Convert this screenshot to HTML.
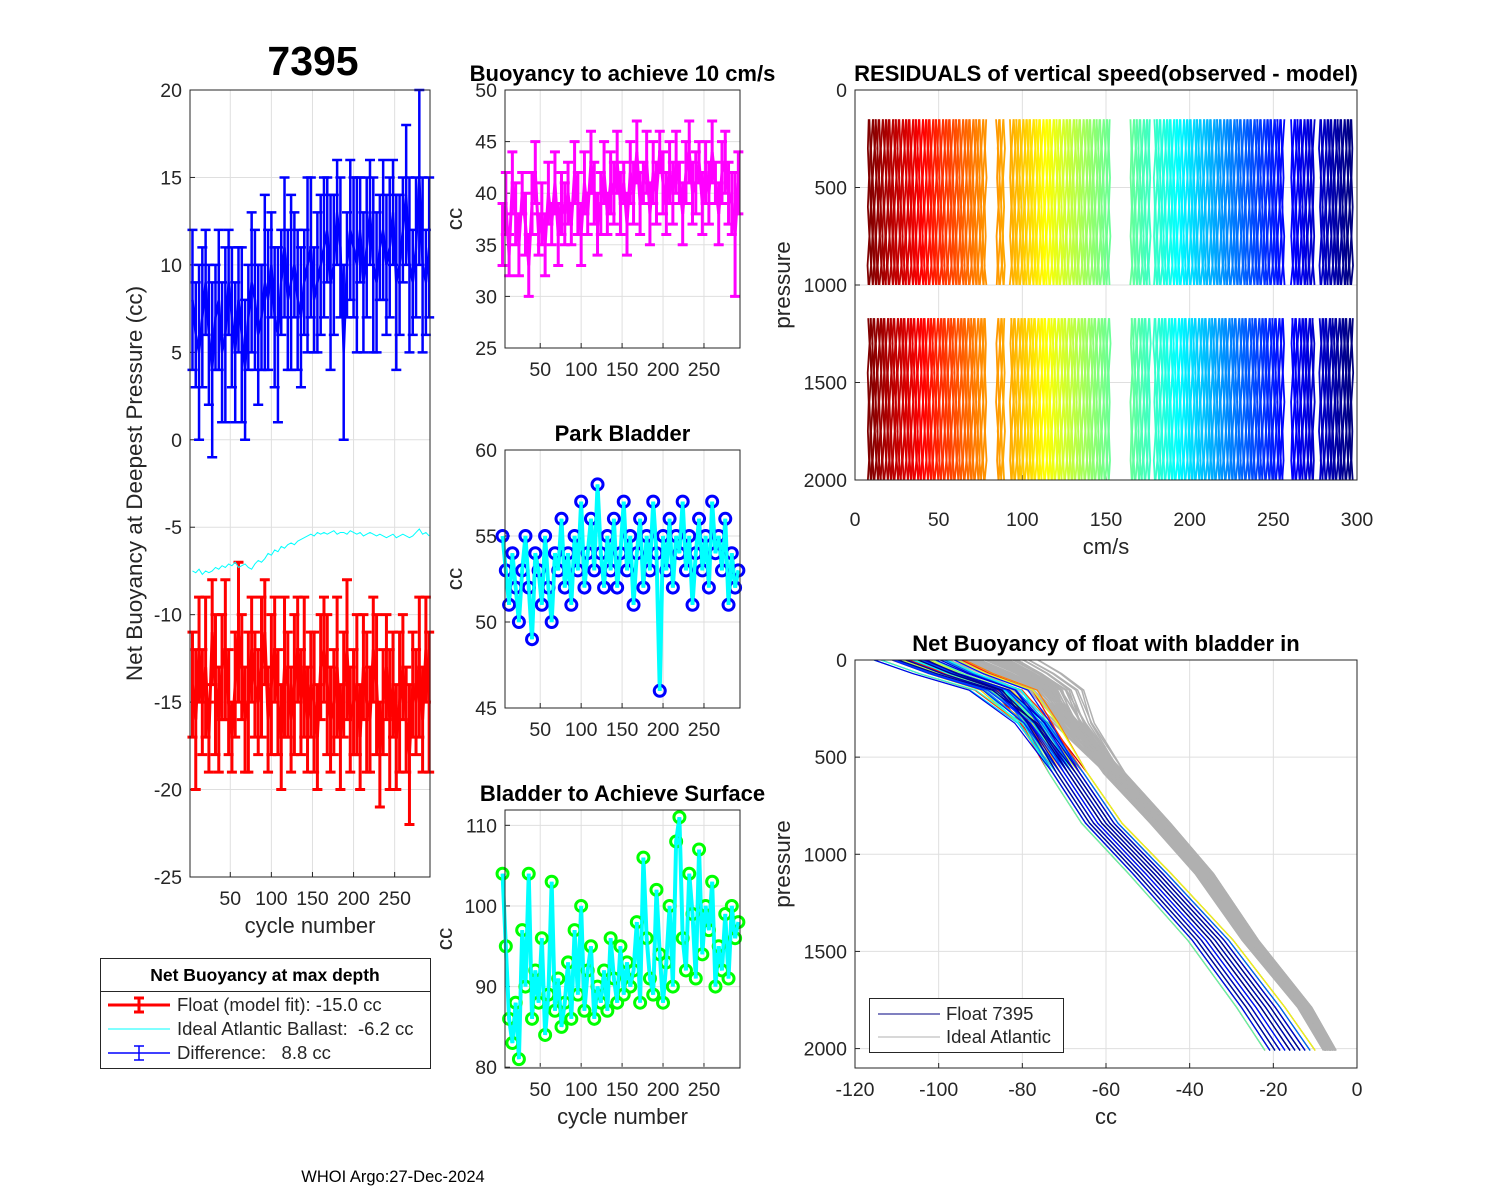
<!DOCTYPE html>
<html><head><meta charset="utf-8">
<style>
html,body{margin:0;padding:0;background:#fff;}
svg{display:block;font-family:"Liberation Sans",Arial,sans-serif;}
</style></head>
<body>
<svg id="fig" width="1500" height="1200" viewBox="0 0 1500 1200" xmlns="http://www.w3.org/2000/svg">
<rect x="0" y="0" width="1500" height="1200" fill="#fff"/>
<text x="313" y="75" font-size="41" font-weight="bold" text-anchor="middle">7395</text>
<text x="393" y="1182" font-size="16.5" text-anchor="middle">WHOI Argo:27-Dec-2024</text>
</svg>
<script>
// ---- data (sampled every 4 cycles, cycles 4..292) ----
var diffVals = [8,6,5,7,9,6,4,7,8,5,6,9,7,5,8,6,4,7,9,8, 6,7,9,8,10,7,6,9,11,8, 9,10,8,7,9,10,11,8,9,10, 11,12,9,10,13,11,5,10,12,11, 10,12,9,11,13,10,9,11,12,10, 11,13,9,10,12,14,10,9,11,15, 10,9,11];
var diffErr = [4,3,5,4,3,4,5,3,4,4,5,3,4,4,3,5,4,3,4,4, 4,3,5,4,3,4,5,3,4,4, 5,3,4,4,3,5,4,3,4,4, 4,3,5,4,3,4,5,3,4,4, 5,3,4,4,3,5,4,3,4,4, 4,3,5,4,3,4,5,3,4,5, 5,3,4];
var floatVals = [-14,-16,-12,-15,-13,-17,-11,-14,-16,-13,-12,-15,-17,-14,-11,-13,-16,-15,-12,-14, -15,-13,-11,-16,-14,-12,-15,-17,-13,-14, -16,-14,-12,-15,-13,-16,-14,-15,-17,-13, -12,-14,-16,-15,-13,-17,-14,-12,-16,-15, -14,-17,-13,-15,-16,-12,-14,-18,-15,-13, -16,-14,-17,-15,-13,-16,-18,-14,-15,-13, -16,-12,-15];
var floatErr = [3,4,3,3,4,2,3,4,3,3,4,3,2,3,4,3,3,4,3,3, 3,4,3,3,4,3,3,3,4,3, 3,4,3,3,4,3,3,4,3,3, 3,4,3,3,4,3,3,4,3,3, 4,3,3,4,3,3,4,3,3,3, 4,3,3,4,3,3,4,3,3,4, 3,3,4];
var idealVals = [-7.5,-7.6,-7.4,-7.7,-7.5,-7.6,-7.5,-7.3,-7.4,-7.2,-7.3,-7.1,-7.2,-7.0,-7.3,-7.2,-7.1,-7.3,-7.4,-7.1, -6.9,-7.0,-6.8,-6.5,-6.6,-6.3,-6.4,-6.1,-6.2,-6.0, -5.9,-6.0,-5.8,-5.7,-5.6,-5.5,-5.4,-5.5,-5.3,-5.4, -5.3,-5.4,-5.3,-5.2,-5.4,-5.3,-5.3,-5.4,-5.2,-5.3, -5.4,-5.3,-5.5,-5.4,-5.3,-5.4,-5.5,-5.4,-5.5,-5.6, -5.5,-5.4,-5.6,-5.5,-5.4,-5.5,-5.6,-5.5,-5.3,-5.1, -5.4,-5.3,-5.5];
var speedVals = [36,39,34,41,38,35,40,37,33,39,42,36,38,35,40,37,41,36,39,38, 40,37,42,39,36,41,38,43,40,37, 39,42,38,41,40,43,39,41,37,42, 40,44,39,41,43,38,42,40,44,41, 39,42,40,43,41,38,42,44,40,41, 43,39,42,40,44,41,38,42,43,40, 39,36,41];
var speedErr = [3,3,2,3,3,3,2,3,3,3,3,2,3,3,3,2,3,3,3,3, 3,2,3,3,3,3,2,3,3,3, 3,3,2,3,3,3,3,2,3,3, 3,3,3,2,3,3,3,3,2,3, 3,3,3,3,2,3,3,3,3,3, 2,3,3,3,3,2,3,3,3,3, 3,6,3];
var parkVals = [55,53,51,54,52,50,53,55,52,49,54,53,51,55,52,50,54,53,56,52, 54,51,55,53,57,52,54,56,53,58, 54,52,55,53,56,52,54,57,53,55, 51,54,56,52,55,53,57,54,46,55, 53,56,52,55,54,57,53,55,51,54, 56,53,55,52,57,54,55,53,56,51, 54,52,53];
var surfVals = [104,95,86,83,88,81,97,90,104,86,92,88,96,84,89,103,87,91,85,88, 93,86,97,89,100,87,92,95,86,90, 88,92,87,96,91,88,95,89,93,90, 92,98,88,106,96,91,89,102,94,88, 93,100,90,108,111,96,92,104,99,91, 107,94,100,97,103,90,95,92,99,91, 100,96,98];
// residual panel: present cycle ranges and wiggle (cm/s)
var cycleRanges = [[8,78],[85,89],[93,152],[165,176],[179,256],[261,274],[278,297]];
var residWiggle = [0.5,-0.3,0.7,-0.5,0.2,-0.7,0.4,-0.1,0.6,-0.4,0.1,-0.3];
var residTopP = [150,300,450,600,750,900,1000];
var residBotP = [1170,1300,1450,1600,1750,1900,2000];
// net buoyancy profiles
var profP = [0,70,155,325,583,840,1100,1443,1788,2010];
var floatCC = [-105,-97,-85,-77,-69,-61,-49.5,-35,-23,-16];
var idealCC = [-88,-81,-74,-68,-58,-47,-36.5,-25.5,-12.5,-6.5];
var profOffsets = [3,-2,4,-4,1,-3,5,-1,2,-5,0,3,-2,4,-3,1,-4,2,5,-1, 0,3,-2,-4,1,4,-3,2,-1,5, -2,0,3,-4,2,-1,4,-3,1,-5, 2,0,-2,3,-4,1,4,-1,-3,2, 0,-2,3,1,-4,2,-1,4,-3,0, 1,-2,3,-1,2,-4,0,3,-2,1, -3,2,0];
var profTopOffsets = [-6,4,-9,2,-3,7,-5,1,-8,5,-2,9,-4,3,-7,0,6,-1,8,-6, 2,-9,5,-3,7,-2,4,-8,1,6, -5,3,-7,8,-1,5,-4,2,-6,9, -3,1,-8,4,-2,7,-5,3,-9,0, 6,-4,2,-7,5,-1,8,-3,4,-6, 1,-5,7,-2,3,-8,6,-1,2,-4, 5,-7,0];

var NS = "http://www.w3.org/2000/svg";
var svg = document.getElementById("fig");
function mk(tag, attrs, parent){var e=document.createElementNS(NS,tag);for(var k in attrs)e.setAttribute(k,attrs[k]);(parent||svg).appendChild(e);return e;}
function cyc(i){return 4+4*i;}
function jet(t){t=Math.max(0,Math.min(1,t));function c(x){return Math.round(255*Math.max(0,Math.min(1,x)));}
 var r=c(1.5-Math.abs(4*t-3)),g=c(1.5-Math.abs(4*t-2)),b=c(1.5-Math.abs(4*t-1));return "rgb("+r+","+g+","+b+")";}

function axes(o){
  var g=mk("g",{});
  
  
  var xoff=o.xoff||0;
  var sx=function(v){return o.x0+(v-o.xmin)/(o.xmax-o.xmin)*(o.x1-o.x0);};
  var sy=o.yrev?function(v){return o.y0+(v-o.ymin)/(o.ymax-o.ymin)*(o.y1-o.y0);}:function(v){return o.y1-(v-o.ymin)/(o.ymax-o.ymin)*(o.y1-o.y0);};
  mk("rect",{x:o.x0,y:o.y0,width:o.x1-o.x0,height:o.y1-o.y0,fill:"#fff"},g);
  o.xticks.forEach(function(t){var x=sx(t);
    mk("line",{x1:x,x2:x,y1:o.y0,y2:o.y1,stroke:"#dfdfdf","stroke-width":1},g);
    mk("line",{x1:x,x2:x,y1:o.y1,y2:o.y1-5,stroke:"#262626","stroke-width":1},g);
    var tl=mk("text",{x:x,y:o.y1+28+xoff,"font-size":19.5,"text-anchor":"middle",fill:"#262626"},g);tl.textContent=t;
    
    
  });
  o.yticks.forEach(function(t){var y=sy(t);
    mk("line",{x1:o.x0,x2:o.x1,y1:y,y2:y,stroke:"#dfdfdf","stroke-width":1},g);
    mk("line",{x1:o.x0,x2:o.x0+5,y1:y,y2:y,stroke:"#262626","stroke-width":1},g);
    var tl=mk("text",{x:o.x0-8,y:y+7,"font-size":19.5,"text-anchor":"end",fill:"#262626"},g);tl.textContent=t;
    
    
  });
  var plot=mk("g",{},g);
  var clipId="clip-"+o.name;
  var cp=mk("clipPath",{id:clipId},g);mk("rect",{x:o.x0,y:o.y0,width:o.x1-o.x0,height:o.y1-o.y0},cp);
  if(o.clip)plot.setAttribute("clip-path","url(#"+clipId+")");
  var box=mk("rect",{x:o.x0,y:o.y0,width:o.x1-o.x0,height:o.y1-o.y0,fill:"none",stroke:"#262626","stroke-width":1},g);
  if(o.title){var t=mk("text",{x:(o.x0+o.x1)/2,y:o.y0-9,"font-size":22,"font-weight":"bold","text-anchor":"middle"},g);t.textContent=o.title;
    
    }
  if(o.xlabel){var t2=mk("text",{x:(o.x0+o.x1)/2,y:o.y1+56+xoff,"font-size":22,"text-anchor":"middle",fill:"#262626"},g);t2.textContent=o.xlabel;
    
    }
  if(o.ylabel){var t3=mk("text",{x:o.ylx,y:(o.y0+o.y1)/2,"font-size":22.5,"text-anchor":"middle",fill:"#262626",transform:"rotate(-90 "+o.ylx+" "+((o.y0+o.y1)/2)+")"},g);t3.textContent=o.ylabel;
    
    }
  g.appendChild(box);
  return {sx:sx,sy:sy,g:plot};
}
function errSeries(ax,vals,errs,color,w,name){
  var pts=[];
  vals.forEach(function(v,i){
    var x=ax.sx(cyc(i)),yt=ax.sy(v+errs[i]),yb=ax.sy(v-errs[i]);
    pts.push(x+","+ax.sy(v));
    var e=mk("path",{d:"M"+x+","+yt+"V"+yb+"M"+(x-5)+","+yt+"H"+(x+5)+"M"+(x-5)+","+yb+"H"+(x+5),stroke:color,"stroke-width":w,fill:"none"},ax.g);
    
    
  });
  var l=mk("polyline",{points:pts.join(" "),stroke:color,"stroke-width":w,fill:"none"},ax.g);
  
  
}
function circSeries(ax,vals,lineColor,markColor,name){
  var pts=vals.map(function(v,i){return ax.sx(cyc(i))+","+ax.sy(v);});
  var l=mk("polyline",{points:pts.join(" "),stroke:lineColor,"stroke-width":4,fill:"none"},ax.g);
  
  
  vals.forEach(function(v,i){
    var c=mk("circle",{cx:ax.sx(cyc(i)),cy:ax.sy(v),r:5.5,stroke:markColor,"stroke-width":3,fill:"none"},ax.g);
    
    
  });
  var l2=mk("polyline",{points:pts.join(" "),stroke:lineColor,"stroke-width":3,fill:"none"},ax.g);
  
  
}

// Panel 1
var a1=axes({name:"net-buoyancy-panel",x0:190,x1:430,y0:90,y1:877,xmin:1,xmax:293,ymin:-25,ymax:20,xticks:[50,100,150,200,250],yticks:[-25,-20,-15,-10,-5,0,5,10,15,20],xlabel:"cycle number",ylabel:"Net Buoyancy at Deepest Pressure (cc)",ylx:142,clip:false});
errSeries(a1,diffVals,diffErr,"#0000ff",2.5,"difference");
errSeries(a1,floatVals,floatErr,"#ff0000",3,"float-model-fit");
(function(){var pts=idealVals.map(function(v,i){return a1.sx(cyc(i))+","+a1.sy(v);});
 var l=mk("polyline",{points:pts.join(" "),stroke:"#00ffff","stroke-width":1,fill:"none"},a1.g);
 
 })();

// Panel 2
var a2=axes({name:"buoyancy-10cms-panel",x0:505,x1:740,y0:90,y1:348,xmin:7,xmax:294,ymin:25,ymax:50,xticks:[50,100,150,200,250],yticks:[25,30,35,40,45,50],title:"Buoyancy to achieve 10 cm/s",ylabel:"cc",ylx:462,clip:false});
errSeries(a2,speedVals,speedErr,"#ff00ff",3,"buoyancy-10cms");
// Panel 3
var a3=axes({name:"park-bladder-panel",x0:505,x1:740,y0:450,y1:708,xmin:7,xmax:294,ymin:45,ymax:60,xticks:[50,100,150,200,250],yticks:[45,50,55,60],title:"Park Bladder",ylabel:"cc",ylx:462,clip:false});
circSeries(a3,parkVals,"#00ffff","#0000ff","park-bladder");
// Panel 4
var a4=axes({name:"surface-bladder-panel",x0:505,x1:740,y0:810,y1:1068,xmin:7,xmax:294,ymin:79.9,ymax:111.9,xticks:[50,100,150,200,250],yticks:[80,90,100,110],title:"Bladder to Achieve Surface",xlabel:"cycle number",ylabel:"cc",ylx:452,clip:false});
circSeries(a4,surfVals,"#00ffff","#00ff00","surface-bladder");

// Panel 5
var a5=axes({name:"residuals-panel",x0:855,x1:1357,y0:90,y1:480,xmin:0,xmax:300,ymin:0,ymax:2000,yrev:true,xoff:18,xticks:[0,50,100,150,200,250,300],yticks:[0,500,1000,1500,2000],title:"RESIDUALS of vertical speed(observed - model)",xlabel:"cm/s",ylabel:"pressure",ylx:790,clip:false});
(function(){
  var all=[];cycleRanges.forEach(function(r){for(var c=r[0];c<=r[1];c++)all.push(c);});
  all.forEach(function(c,k){
    var col=jet(1-k/(all.length-1));
    [residTopP,residBotP].forEach(function(P,s){
      var pts=P.map(function(p,j){return a5.sx(c+residWiggle[(c*5+j*7+s*3)%residWiggle.length])+","+a5.sy(p);});
      var l=mk("polyline",{points:pts.join(" "),stroke:col,"stroke-width":1.8,fill:"none"},a5.g);
      
      
    });
  });
})();

// Panel 6
var a6=axes({name:"net-buoyancy-profile-panel",x0:855,x1:1357,y0:660,y1:1068,xmin:-120,xmax:0,ymin:0,ymax:2100,yrev:true,xticks:[-120,-100,-80,-60,-40,-20,0],yticks:[0,500,1000,1500,2000],title:"Net Buoyancy of float with bladder in",xlabel:"cc",ylabel:"pressure",ylx:790,clip:true});
(function(){
  profOffsets.forEach(function(o,i){
    var t=profTopOffsets[i];
    var pts=profP.map(function(p,j){var f=Math.max(0,1-p/450);return a6.sx(idealCC[j]+o*0.6*(1-0.5*p/2010)+t*1.1*f)+","+a6.sy(p);});
    var l=mk("polyline",{points:pts.join(" "),stroke:"#b0b0b0","stroke-width":1.5,fill:"none"},a6.g);
    
    
  });
  profOffsets.forEach(function(o,i){
    var t=profTopOffsets[i];
    var pts=profP.map(function(p,j){var f=Math.max(0,1-p/400);return a6.sx(floatCC[j]+o*(0.8+0.4*p/2010)+t*0.9*f)+","+a6.sy(p);});
    var l=mk("polyline",{points:pts.join(" "),stroke:jet(1-i/(profOffsets.length-1)),"stroke-width":1.2,fill:"none"},a6.g);
    
    
  });
})();
</script>
<script>
(function(){
var NS="http://www.w3.org/2000/svg",svg=document.getElementById("fig");
function mk(tag,a,p){var e=document.createElementNS(NS,tag);for(var k in a)e.setAttribute(k,a[k]);(p||svg).appendChild(e);return e;}
// Legend 1
var lg=mk("g",{});


mk("rect",{x:100.5,y:958.5,width:330,height:110,fill:"#fff",stroke:"#262626"},lg);
mk("line",{x1:100.5,x2:430.5,y1:991.5,y2:991.5,stroke:"#262626"},lg);
var h=mk("text",{x:265,y:981,"font-size":17.5,"font-weight":"bold","text-anchor":"middle"},lg);h.textContent="Net Buoyancy at max depth";
mk("path",{d:"M108,1005H170M139,998V1012M134,998H144M134,1012H144",stroke:"#ff0000","stroke-width":3,fill:"none"},lg);
mk("line",{x1:108,x2:170,y1:1029,y2:1029,stroke:"#00ffff","stroke-width":1},lg);
mk("path",{d:"M108,1053H170M139,1046V1060M134,1046H144M134,1060H144",stroke:"#0000ff","stroke-width":1.5,fill:"none"},lg);
var labels=[["Float (model fit): -15.0 cc",1011],["Ideal Atlantic Ballast:\u00a0 -6.2 cc",1035],["Difference:\u00a0\u00a0 8.8 cc",1059]];
labels.forEach(function(l){var t=mk("text",{x:177,y:l[1],"font-size":18.5,fill:"#262626"},lg);t.textContent=l[0];
 
 });
// Legend 2
var l2=mk("g",{});


mk("rect",{x:869.5,y:998.5,width:194,height:54,fill:"#fff",stroke:"#262626"},l2);
mk("line",{x1:878,x2:940,y1:1014,y2:1014,stroke:"#000080","stroke-width":1},l2);
mk("line",{x1:878,x2:940,y1:1037,y2:1037,stroke:"#b0b0b0","stroke-width":1},l2);
var a=mk("text",{x:946,y:1020,"font-size":18.5,fill:"#262626"},l2);a.textContent="Float 7395";


var b=mk("text",{x:946,y:1043,"font-size":18.5,fill:"#262626"},l2);b.textContent="Ideal Atlantic";


})();
</script>
</body></html>
